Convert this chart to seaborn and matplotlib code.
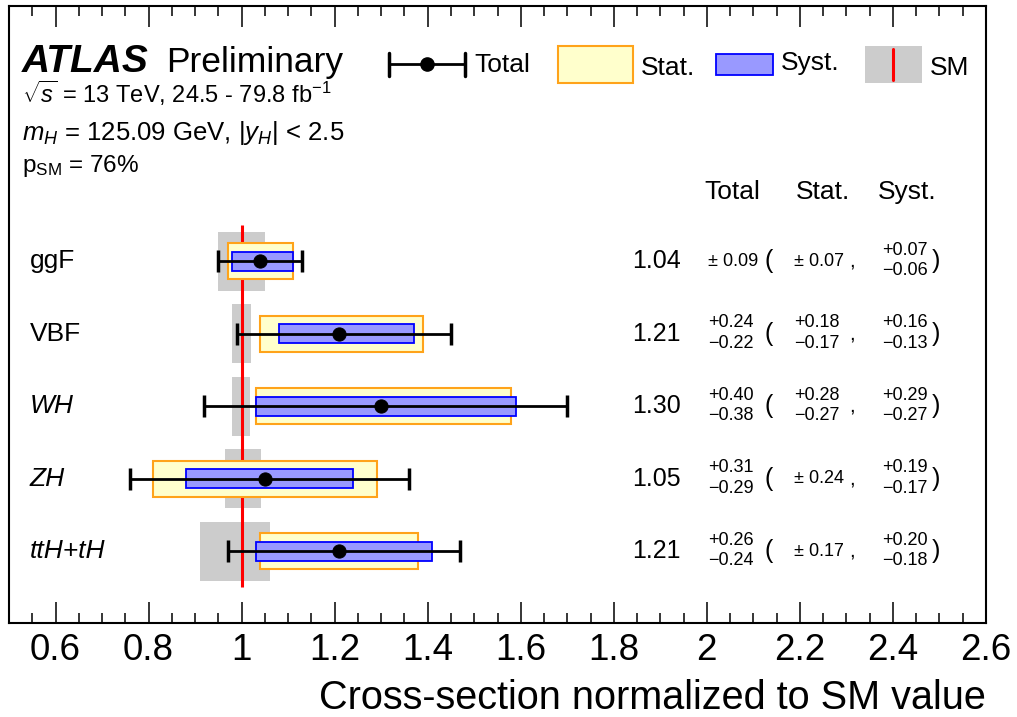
import numpy as np
import matplotlib
matplotlib.use("Agg")
import matplotlib.pyplot as plt
import seaborn as sns
from matplotlib.patches import Rectangle
from matplotlib.lines import Line2D
from matplotlib.ticker import MultipleLocator, FuncFormatter
import matplotlib.transforms as mtransforms

# ---------------- data ----------------
processes = ["ggF", "VBF", "WH", "ZH", "ttH+tH"]
italic_label = [False, False, True, True, True]
central = [1.04, 1.21, 1.30, 1.05, 1.21]
tot_up = [0.09, 0.24, 0.40, 0.31, 0.26]
tot_dn = [0.09, 0.22, 0.38, 0.29, 0.24]
stat_up = [0.07, 0.18, 0.28, 0.24, 0.17]
stat_dn = [0.07, 0.17, 0.27, 0.24, 0.17]
syst_up = [0.07, 0.16, 0.29, 0.19, 0.20]
syst_dn = [0.06, 0.13, 0.27, 0.17, 0.18]
sm_up = [0.05, 0.021, 0.019, 0.041, 0.06]
sm_dn = [0.05, 0.021, 0.021, 0.035, 0.09]
x_ticks = [0.6, 0.8, 1.0, 1.2, 1.4, 1.6, 1.8, 2.0, 2.2, 2.4, 2.6]

# ---------------- style ----------------
sns.set_theme(style="ticks")
plt.rcParams["font.family"] = ["Liberation Sans", "DejaVu Sans"]
plt.rcParams["mathtext.fontset"] = "custom"
plt.rcParams["mathtext.rm"] = "Liberation Sans"
plt.rcParams["mathtext.it"] = "Liberation Sans:italic"
plt.rcParams["mathtext.bf"] = "Liberation Sans:bold"
plt.rcParams["axes.edgecolor"] = "black"
plt.rcParams["axes.labelcolor"] = "black"
plt.rcParams["xtick.color"] = "black"
plt.rcParams["xtick.labelcolor"] = "black"
plt.rcParams["text.color"] = "black"

fig = plt.figure(figsize=(10.17, 7.17), dpi=100)
ax = fig.add_axes([9 / 1017, 94 / 717, 977 / 1017, 617 / 717])

ypos = np.arange(len(processes))
c = np.array(central)

# SM theory band
ax.barh(ypos, np.add(sm_up, sm_dn), left=1 - np.array(sm_dn), height=0.81,
        color="#cccccc", edgecolor="none", zorder=1)
# SM line
ax.vlines(1.0, -0.5, len(processes) - 0.5, color="#ff0000", lw=2.2, zorder=2)
# stat boxes
ax.barh(ypos, np.add(stat_up, stat_dn), left=c - np.array(stat_dn), height=0.50,
        color="#ffffcc", edgecolor="#ffa31a", lw=1.5, zorder=3)
# syst boxes
ax.barh(ypos, np.add(syst_up, syst_dn), left=c - np.array(syst_dn), height=0.26,
        color="#9999ff", edgecolor="#0000ff", lw=1.3, zorder=4)
# total error bars
ax.errorbar(central, ypos, xerr=[tot_dn, tot_up], fmt="none", ecolor="black",
            elinewidth=2.0, capsize=8, capthick=2.5, zorder=5)
sns.scatterplot(x=central, y=ypos, color="black", s=90, edgecolor="black",
                legend=False, ax=ax, zorder=6)

ax.set_xlim(0.5, 2.6)
ax.set_ylim(4.99, -3.52)
ax.set_yticks([])
ax.set_ylabel("")
ax.set_xticks(x_ticks)
ax.xaxis.set_minor_locator(MultipleLocator(0.05))
ax.xaxis.set_major_formatter(FuncFormatter(lambda v, p: f"{v:g}"))
ax.tick_params(axis="x", which="both", direction="in", top=True, bottom=True,
               labelsize=26.5, pad=7, width=1.1, labelcolor="black")
ax.tick_params(axis="x", which="major", length=15)
ax.tick_params(axis="x", which="minor", length=7.5)
for s in ax.spines.values():
    s.set_visible(True)
    s.set_linewidth(1.5)
    s.set_color("black")
ax.set_xlabel("Cross-section normalized to SM value", loc="right", fontsize=28.5,
              labelpad=8, color="black")

# process labels
for yi, name, it in zip(ypos, processes, italic_label):
    ax.text(0.545, yi, name, fontsize=19, va="center", ha="left",
            fontstyle="italic" if it else "normal")

# right-hand numbers
tr = mtransforms.blended_transform_factory(ax.transAxes, ax.transData)


def fx(px):
    return (px - 9) / 977


def fy(py):
    return (623 - py) / 617


def err_text(x, yi, up, dn):
    if abs(up - dn) < 1e-9:
        ax.text(x, yi, f"± {up:.2f}", transform=tr, fontsize=13,
                va="center", ha="left")
    else:
        ax.text(x, yi - 0.15, f"+{up:.2f}", transform=tr, fontsize=13,
                va="center", ha="left")
        ax.text(x, yi + 0.13, f"\u2212{dn:.2f}", transform=tr, fontsize=13,
                va="center", ha="left")


for i, yi in enumerate(ypos):
    ax.text(fx(681), yi, f"{central[i]:.2f}", transform=tr, fontsize=18,
            va="center", ha="right")
    err_text(fx(708), yi, tot_up[i], tot_dn[i])
    ax.text(fx(764), yi, "(", transform=tr, fontsize=18, va="center", ha="left")
    err_text(fx(794), yi, stat_up[i], stat_dn[i])
    ax.text(fx(849), yi, ",", transform=tr, fontsize=15, va="center", ha="left")
    err_text(fx(882), yi, syst_up[i], syst_dn[i])
    ax.text(fx(932), yi, ")", transform=tr, fontsize=18, va="center", ha="left")

for label, px in zip(["Total", "Stat.", "Syst."], [732, 823, 907]):
    ax.text(fx(px), -0.95, label, transform=tr, fontsize=19, va="center",
            ha="center")

# top-left text block
ax.text(fx(22), fy(72), "ATLAS", transform=ax.transAxes, fontsize=28,
        fontweight="bold", fontstyle="italic", va="baseline", ha="left")
ax.text(fx(166), fy(72), "Preliminary", transform=ax.transAxes, fontsize=25.5,
        va="baseline", ha="left")
ax.text(fx(22), fy(103), r"$\sqrt{s}$ = 13 TeV, 24.5 - 79.8 fb$^{\mathregular{-1}}$",
        transform=ax.transAxes, fontsize=17, va="baseline", ha="left")
ax.text(fx(22), fy(140), r"$m_{H}$ = 125.09 GeV, $|y_{H}|$ < 2.5",
        transform=ax.transAxes, fontsize=18.5, va="baseline", ha="left")
ax.text(fx(22), fy(172), r"p$_{\mathregular{SM}}$ = 76%",
        transform=ax.transAxes, fontsize=17.5, va="baseline", ha="left")

# legend (drawn in axes coordinates)
T = ax.transAxes
ly = fy(64)
ax.add_line(Line2D([fx(389), fx(465)], [ly, ly], color="black", lw=2.0,
                   transform=T, clip_on=False))
for px in (389, 465):
    ax.add_line(Line2D([fx(px), fx(px)], [fy(75.5), fy(52.5)], color="black",
                       lw=2.5, transform=T, clip_on=False))
ax.add_line(Line2D([fx(427)], [ly], marker="o", markersize=9.5, color="black",
                   transform=T, clip_on=False))
ax.text(fx(474), fy(65), "Total", transform=T, fontsize=19, va="center", ha="left")

ax.add_patch(Rectangle((fx(558), fy(83)), fx(633) - fx(558), fy(46) - fy(83),
                       facecolor="#ffffcc", edgecolor="#ffa31a", lw=1.5,
                       transform=T, clip_on=False))
ax.text(fx(641), fy(68), "Stat.", transform=T, fontsize=19, va="center", ha="left")

ax.add_patch(Rectangle((fx(716), fy(75)), fx(772.5) - fx(716), fy(54) - fy(75),
                       facecolor="#9999ff", edgecolor="#0000ff", lw=1.3,
                       transform=T, clip_on=False))
ax.text(fx(781), fy(63), "Syst.", transform=T, fontsize=19, va="center", ha="left")

ax.add_patch(Rectangle((fx(865), fy(83)), fx(922) - fx(865), fy(46) - fy(83),
                       facecolor="#cccccc", edgecolor="none",
                       transform=T, clip_on=False))
ax.add_line(Line2D([fx(893), fx(893)], [fy(80), fy(49)], color="#ff0000", lw=2.2,
                   transform=T, clip_on=False))
ax.text(fx(930), fy(68), "SM", transform=T, fontsize=19, va="center", ha="left")

fig.savefig("out.png", dpi=100)
